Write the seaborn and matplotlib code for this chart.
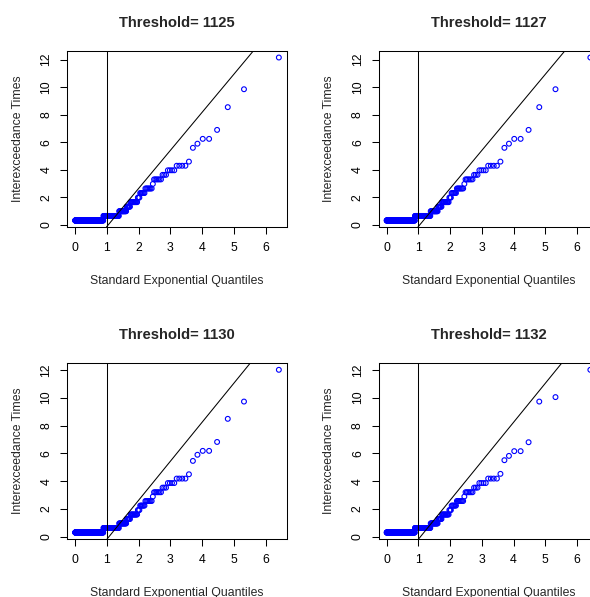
import numpy as np
import pandas as pd
import matplotlib
matplotlib.use("Agg")
import matplotlib.pyplot as plt
import seaborn as sns

# Thresholds, one panel each
thresholds = [1125, 1127, 1130, 1132]

# Distinct interexceedance times (ascending) and how many times each occurs
levels_1125 = [0.33, 0.66, 1.0, 1.33, 1.66, 1.99, 2.32, 2.65, 2.98, 3.31, 3.64, 3.97,
               4.3, 4.6, 5.6, 5.9, 6.25, 6.9, 8.55, 9.85, 12.15]
levels_1127 = [0.33, 0.66, 1.0, 1.33, 1.66, 1.99, 2.32, 2.65, 2.98, 3.31, 3.64, 3.97,
               4.3, 4.6, 5.6, 5.9, 6.25, 6.9, 8.55, 9.85, 12.15]
levels_1130 = [0.32, 0.645, 0.97, 1.29, 1.61, 1.93, 2.25, 2.58, 2.9, 3.21, 3.54, 3.87,
               4.19, 4.5, 5.46, 5.9, 6.18, 6.82, 8.48, 9.72, 12.0]
levels_1132 = [0.32, 0.645, 0.97, 1.29, 1.61, 1.93, 2.25, 2.58, 2.9, 3.21, 3.54, 3.87,
               4.19, 4.53, 5.51, 5.82, 6.16, 6.8, 9.72, 10.04, 12.0]
counts = [181, 49, 16, 7, 11, 3, 6, 7, 1, 6, 3, 4, 4, 1, 1, 1, 2, 1, 1, 1, 1]

# Reference line y = slope * x + intercept for each panel
line_slopes = [2.76, 2.76, 2.80, 2.80]
line_intercepts = [-2.87, -2.87, -2.97, -2.97]

levels_all = [levels_1125, levels_1127, levels_1130, levels_1132]

sns.set_theme(style="ticks")
plt.rcParams["font.family"] = ["Liberation Sans", "DejaVu Sans"]
plt.rcParams["axes.edgecolor"] = "black"
plt.rcParams["axes.linewidth"] = 0.75
plt.rcParams["xtick.color"] = "black"
plt.rcParams["ytick.color"] = "black"

W, H = 590, 597
fig = plt.figure(figsize=(W / 100, H / 100), dpi=100)
fig.patch.set_facecolor("white")

# panel boxes in pixels: (left, top, width, height)
boxes = [(67, 51, 220, 176), (378.5, 51, 220, 176),
         (67, 363.3, 220, 175.7), (378.5, 363.3, 220, 175.7)]

for t, lev, slope, icpt, (l, tp, w, h) in zip(thresholds, levels_all, line_slopes,
                                             line_intercepts, boxes):
    ax = fig.add_axes([l / W, 1 - (tp + h) / H, w / W, h / H])
    y = np.sort(np.repeat(lev, counts))
    n = len(y)
    p = (np.arange(1, n + 1) - 0.5) / n
    x = -np.log1p(-p)  # standard exponential quantiles
    df = pd.DataFrame({"quantile": x, "time": y})

    sns.scatterplot(data=df, x="quantile", y="time", ax=ax, marker="o", s=12,
                    linewidth=0.8, legend=False)
    coll = ax.collections[-1]
    coll.set_facecolor("none")
    coll.set_edgecolor("#0000FF")

    ax.axvline(1, color="black", lw=0.75)
    ax.axline((0, icpt), slope=slope, color="black", lw=0.75)

    xr = x.max() - x.min()
    yr = y.max() - y.min()
    ax.set_xlim(x.min() - 0.04 * xr, x.max() + 0.04 * xr)
    ax.set_ylim(y.min() - 0.04 * yr, y.max() + 0.04 * yr)

    ax.set_xticks(range(0, 7))
    ax.set_yticks(range(0, 13, 2))
    ax.tick_params(axis="both", direction="out", length=5, width=0.75,
                   labelsize=8.8, pad=5.5)
    for lab in ax.get_yticklabels():
        lab.set_rotation(90)
        lab.set_va("center")

    for s in ax.spines.values():
        s.set_visible(True)
        s.set_color("black")
        s.set_linewidth(0.75)

    ax.set_title(f"Threshold= {t}", fontsize=10.6, fontweight="bold", pad=17.5)
    ax.set_xlabel("Standard Exponential Quantiles", fontsize=8.8, labelpad=15.5)
    ax.set_ylabel("Interexceedance Times", fontsize=8.8, labelpad=12)

fig.savefig("out.png", dpi=100, facecolor="white")
